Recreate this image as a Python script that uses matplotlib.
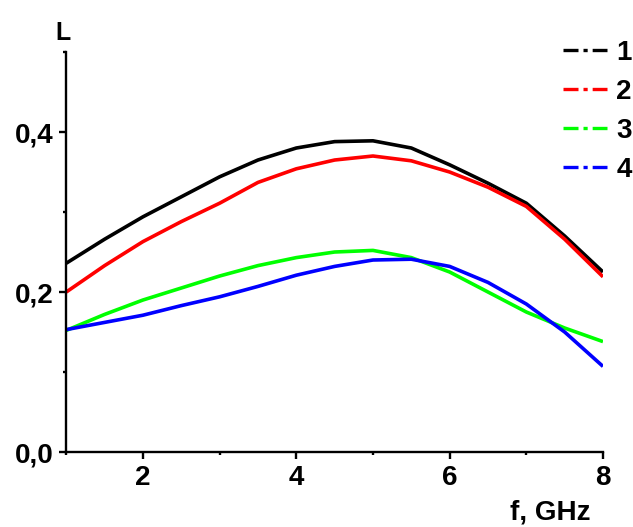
import matplotlib
matplotlib.use("Agg")
import matplotlib.pyplot as plt
from matplotlib.lines import Line2D
from matplotlib.ticker import MultipleLocator, FuncFormatter

plt.rcParams["font.family"] = ["Liberation Sans", "DejaVu Sans"]
plt.rcParams["font.weight"] = "bold"

f_ghz = [1, 1.5, 2, 2.5, 3, 3.5, 4, 4.5, 5, 5.5, 6, 6.5, 7, 7.5, 8]
L1 = [0.236, 0.266, 0.294, 0.319, 0.344, 0.365, 0.380, 0.388, 0.389, 0.380, 0.359, 0.336, 0.311, 0.270, 0.225]
L2 = [0.200, 0.233, 0.263, 0.288, 0.311, 0.337, 0.354, 0.365, 0.370, 0.364, 0.350, 0.331, 0.307, 0.266, 0.219]
L3 = [0.152, 0.172, 0.190, 0.205, 0.220, 0.233, 0.243, 0.250, 0.252, 0.243, 0.225, 0.200, 0.175, 0.155, 0.138]
L4 = [0.153, 0.162, 0.171, 0.183, 0.194, 0.207, 0.221, 0.232, 0.240, 0.241, 0.232, 0.212, 0.185, 0.150, 0.107]
labels = ["1", "2", "3", "4"]
colors = ["#000000", "#ff0000", "#00ff00", "#0000ff"]

fig = plt.figure(figsize=(6.33, 5.27), dpi=100)
ax = fig.add_axes([0.1047, 0.1423, 0.8479, 0.759])
for ys, c in zip([L1, L2, L3, L4], colors):
    ax.plot(f_ghz, ys, color=c, lw=2.6, solid_joinstyle="round", solid_capstyle="butt")

ax.set_xlim(1, 8); ax.set_ylim(0, 0.5)
ax.xaxis.set_major_locator(MultipleLocator(2)); ax.xaxis.set_minor_locator(MultipleLocator(1))
ax.yaxis.set_major_locator(MultipleLocator(0.2)); ax.yaxis.set_minor_locator(MultipleLocator(0.1))
ax.xaxis.set_major_formatter(FuncFormatter(lambda v, p: "" if v < 1.5 else f"{v:.0f}"))
ax.yaxis.set_major_formatter(FuncFormatter(lambda v, p: f"{v:.1f}".replace(".", ",")))
for s in ["top", "right"]: ax.spines[s].set_visible(False)
for s in ["left", "bottom"]: ax.spines[s].set_linewidth(1.7)
ax.tick_params(which="major", direction="out", length=5, width=1.7, labelsize=20, pad=4)
ax.tick_params(which="minor", direction="out", length=2.5, width=1.7)
for t in ax.get_xticklabels() + ax.get_yticklabels(): t.set_fontweight("bold")

fig.text(0.100, 0.938, "L", fontsize=18, fontweight="bold", ha="center", va="center")
fig.text(0.869, 0.028, "f, GHz", fontsize=20, fontweight="bold", ha="center", va="center")

handles = [Line2D([], [], color=c, lw=2.4, ls=(0, (4.5, 1.5, 1.25, 1.5))) for c in colors]
fig.legend(handles, labels, loc="upper right", bbox_to_anchor=(0.998, 0.924), frameon=False,
           handlelength=1.58, handletextpad=0.32, labelspacing=0.47, borderaxespad=0, borderpad=0,
           prop={"weight": "bold", "size": 20})

fig.savefig("out.png", dpi=100)
